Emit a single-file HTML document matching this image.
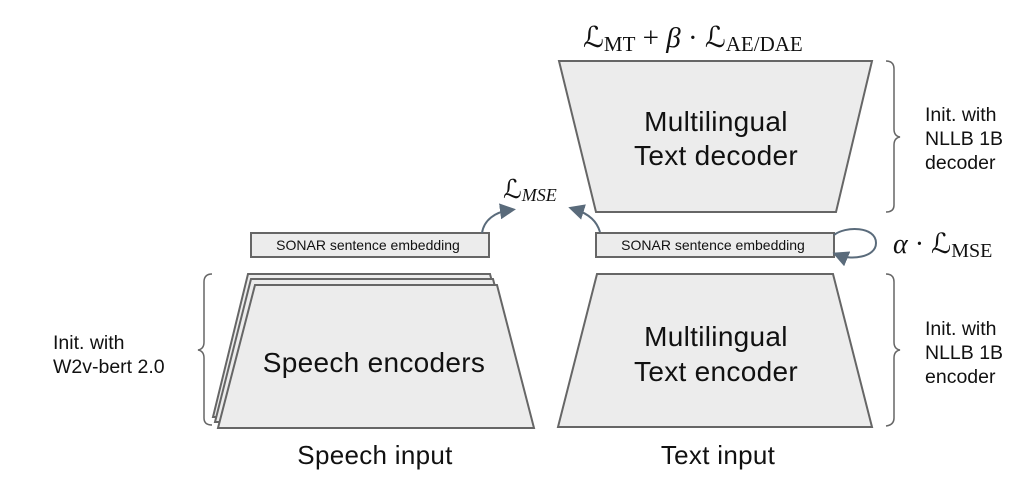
<!DOCTYPE html>
<html><head><meta charset="utf-8"><style>
body{margin:0;background:#fff;}
svg{display:block}
.s{font-family:"Liberation Sans",sans-serif;fill:#111}
.m{font-family:"Liberation Serif",serif;fill:#111}
</style></head><body>
<svg width="1032" height="488" viewBox="0 0 1032 488" xmlns="http://www.w3.org/2000/svg">
<defs><marker id="ah" markerWidth="8" markerHeight="8" refX="5" refY="4" orient="auto"><path d="M0,0 L8,4 L0,8 Z" fill="#5a6b7b"/></marker></defs>
<g stroke="#666" stroke-width="2" fill="#ececec">
<polygon points="559,61 872,61 836,212 596,212"/>
<polygon points="597,274 833,274 872,427 558,427"/>
<polygon points="248,274 490,274 527,417 213,417"/>
<polygon points="251,279 493,279 530,422 215,422"/>
<polygon points="255,285 497,285 534,428 218,428"/>
<rect x="251" y="233" width="238" height="24"/>
<rect x="596" y="233" width="238" height="24"/>
</g>
<g fill="none" stroke="#666" stroke-width="1.5">
<path d="M886,61 q8,0 8,8 v60 q0,7 6,8 q-6,1 -6,8 v60 q0,7 -8,7"/>
<path d="M886,274 q8,0 8,8 v60 q0,7 6,8 q-6,1 -6,8 v60 q0,7 -8,8"/>
<path d="M212,274 q-8,0 -8,8 v60 q0,7 -6,8 q6,1 6,8 v60 q0,7 8,7"/>
</g>
<g fill="none" stroke="#5a6b7b" stroke-width="2">
<path d="M482,233 C484,220 495,212 510,210" marker-end="url(#ah)"/>
<path d="M600,232 C597,222 590,214 574,209" marker-end="url(#ah)"/>
<path d="M834,235 C845,226 876,226 876,243 C876,258 850,260 838,255" marker-end="url(#ah)"/>
</g>
<text class="s" x="368" y="250" font-size="14" text-anchor="middle">SONAR sentence embedding</text>
<text class="s" x="713" y="250" font-size="14" text-anchor="middle">SONAR sentence embedding</text>
<g class="s" font-size="28" text-anchor="middle" letter-spacing="0.3">
<text x="716" y="131">Multilingual</text>
<text x="716" y="165">Text decoder</text>
<text x="716" y="346">Multilingual</text>
<text x="716" y="381">Text encoder</text>
<text x="374" y="372">Speech encoders</text>
<text x="375" y="464" font-size="26">Speech input</text>
<text x="718" y="464" font-size="26">Text input</text>
</g>
<g class="s" font-size="19.5">
<text x="925" y="121">Init. with</text><text x="925" y="145">NLLB 1B</text><text x="925" y="169">decoder</text>
<text x="925" y="335">Init. with</text><text x="925" y="359">NLLB 1B</text><text x="925" y="383">encoder</text>
<text x="53" y="349">Init. with</text><text x="53" y="373">W2v-bert 2.0</text>
</g>
<text class="m" x="583" y="47" font-size="29">ℒ<tspan font-size="21" dy="4">MT</tspan><tspan dy="-4"> + </tspan><tspan font-style="italic">β</tspan> · ℒ<tspan font-size="21" dy="4">AE/DAE</tspan></text>
<text class="m" x="503" y="198" font-size="26">ℒ<tspan font-size="18" font-style="italic" dy="3">MSE</tspan></text>
<text class="m" x="893" y="253" font-size="28"><tspan font-style="italic">α</tspan> · ℒ<tspan font-size="20" dy="4">MSE</tspan></text>
</svg>
</body></html>
